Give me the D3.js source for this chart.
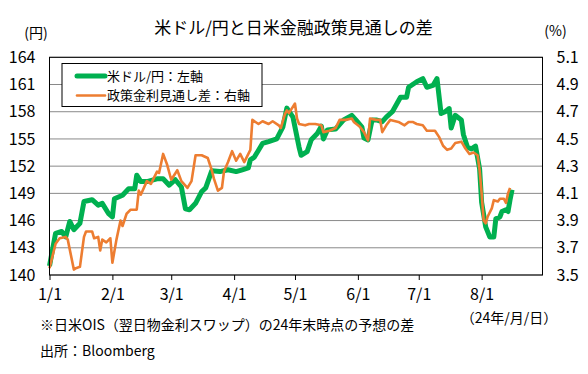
<!DOCTYPE html>
<html>
<head>
<meta charset="utf-8">
<script src="https://cdn.jsdelivr.net/npm/d3@7"></script>
<style>
body { margin: 0; background: #fff; }
text { font-family: "Noto Sans CJK JP", "Noto Sans", sans-serif; fill: #000; }
</style>
</head>
<body>
<svg id="chart" width="588" height="374"></svg>
<script>
// USD/JPY (left axis)
var usdDates = ["01-01","01-04","01-07","01-09","01-11","01-13","01-16","01-18","01-22","01-25",
    "01-27","01-30","02-01","02-02","02-06","02-09","02-12","02-13","02-15","02-18",
    "02-23","02-26","02-29","03-03","03-06","03-08","03-10","03-13","03-16","03-18",
    "03-21","03-25","03-29","04-02","04-05","04-08","04-09","04-11","04-15","04-18",
    "04-22","04-25","04-27","04-30","05-03","05-04","05-07","05-09","05-12","05-14",
    "05-15","05-17","05-21","05-25","05-29","05-31","06-03","06-04","06-06","06-08",
    "06-10","06-13","06-15","06-18","06-22","06-25","06-26","06-30","07-03","07-05",
    "07-08","07-10","07-12","07-14","07-16","07-17","07-19","07-22","07-23","07-25",
    "07-27","07-29","07-31","08-01","08-03","08-05","08-07","08-08","08-10","08-11",
    "08-13","08-14","08-15","08-16"];
var usdValues = [141.0,144.6,144.8,144.2,145.9,145.0,145.7,148.1,148.3,147.7,
    147.9,146.8,146.4,148.4,148.8,149.5,149.5,151.0,150.3,150.3,
    150.6,150.6,149.9,150.5,149.7,147.3,147.2,147.9,149.2,149.6,
    151.5,151.4,151.6,151.4,151.6,151.8,152.7,153.0,154.5,154.7,
    155.0,156.3,158.4,157.4,154.1,153.2,153.6,154.9,155.6,156.4,
    155.0,156.0,156.1,157.1,157.6,157.1,156.3,155.1,154.9,157.1,
    157.1,156.9,157.4,158.0,159.6,159.6,160.7,161.3,161.65,160.7,
    160.9,161.65,157.8,158.0,158.35,156.2,157.6,157.1,155.5,154.1,
    153.9,154.2,151.7,148.0,145.3,144.2,144.2,146.2,146.4,147.0,
    147.2,147.0,148.3,149.4];

// policy outlook gap, % (right axis)
var gapDates = ["01-01","01-04","01-06","01-09","01-10","01-13","01-14","01-16","01-18","01-19",
    "01-22","01-23","01-25","01-26","01-27","01-29","01-31","02-01","02-03","02-05",
    "02-06","02-08","02-10","02-13","02-14","02-15","02-18","02-20","02-23","02-24",
    "02-26","02-28","03-01","03-04","03-06","03-09","03-11","03-13","03-16","03-19",
    "03-21","03-22","03-24","03-26","03-27","03-29","03-31","04-02","04-04","04-06",
    "04-09","04-10","04-13","04-15","04-18","04-20","04-23","04-24","04-26","04-27",
    "04-28","05-01","05-02","05-03","05-06","05-08","05-11","05-14","05-15","05-18",
    "05-21","05-23","05-26","05-29","05-30","06-02","06-04","06-06","06-07","06-10",
    "06-12","06-13","06-15","06-17","06-21","06-24","06-26","06-28","06-30","07-03",
    "07-05","07-07","07-09","07-11","07-13","07-15","07-17","07-19","07-22","07-24",
    "07-26","07-28","07-30","07-31","08-01","08-02","08-03","08-04","08-06","08-07",
    "08-09","08-10","08-12","08-13","08-14","08-15"];
var gapValues = [3.55,3.73,3.77,3.78,3.76,3.54,3.55,3.56,3.78,3.82,
    3.82,3.77,3.78,3.68,3.76,3.74,3.77,3.59,3.76,3.90,
    3.86,3.95,3.98,3.98,4.12,4.09,4.19,4.17,4.26,4.25,
    4.39,4.31,4.20,4.27,4.19,4.14,4.19,4.38,4.38,4.36,
    4.27,4.21,4.12,4.14,4.26,4.33,4.41,4.34,4.39,4.33,
    4.42,4.64,4.61,4.63,4.61,4.63,4.60,4.58,4.68,4.71,
    4.69,4.76,4.65,4.61,4.60,4.61,4.61,4.60,4.55,4.56,
    4.58,4.64,4.64,4.65,4.625,4.59,4.55,4.49,4.65,4.64,
    4.64,4.55,4.60,4.64,4.625,4.60,4.625,4.625,4.61,4.60,
    4.56,4.56,4.56,4.515,4.45,4.42,4.43,4.47,4.48,4.43,
    4.39,4.40,4.38,4.27,4.10,3.90,3.88,3.93,3.99,4.05,
    4.04,4.06,4.06,4.03,4.10,4.14];

var leftTicks = [140, 143, 146, 149, 152, 155, 158, 161, 164];
var rightTicks = [3.5, 3.7, 3.9, 4.1, 4.3, 4.5, 4.7, 4.9, 5.1];
var monthTicks = ["01-01", "02-01", "03-01", "04-01", "05-01", "06-01", "07-01", "08-01"];

var title = "米ドル/円と日米金融政策見通しの差";
var legendLabels = ["米ドル/円：左軸", "政策金利見通し差：右軸"];
var note = "※日米OIS（翌日物金利スワップ）の24年末時点の予想の差";
var source = "出所：Bloomberg";

var svg = d3.select("#chart"),
    margin = {left: 49.5, top: 57.3, right: 45.5, bottom: 99},
    width = 588 - margin.left - margin.right,
    height = 374 - margin.top - margin.bottom;

var parse = function(s) { return new Date(Date.UTC(2024, +s.slice(0, 2) - 1, +s.slice(3))); };

var x = d3.scaleUtc()
    .domain([parse("01-01"), parse("08-31")])
    .range([0, width]);
var yL = d3.scaleLinear().domain([140, 164]).range([height, 0]);
var yR = d3.scaleLinear().domain([3.5, 5.1]).range([height, 0]);

var g = svg.append("g").attr("transform", "translate(" + margin.left + "," + margin.top + ")");

// gridlines
g.append("g")
    .selectAll("line")
    .data(leftTicks)
    .enter().append("line")
    .attr("x1", 0).attr("x2", width)
    .attr("y1", function(d) { return yL(d); })
    .attr("y2", function(d) { return yL(d); })
    .attr("stroke", "#898989")
    .attr("stroke-width", 1);

// series
var usd = usdDates.map(function(d, i) { return {date: parse(d), v: usdValues[i]}; });
var gap = gapDates.map(function(d, i) { return {date: parse(d), v: gapValues[i]}; });

g.append("path")
    .datum(usd)
    .attr("fill", "none")
    .attr("stroke", "#00b050")
    .attr("stroke-width", 5)
    .attr("stroke-linejoin", "round")
    .attr("d", d3.line().x(function(d) { return x(d.date); }).y(function(d) { return yL(d.v); }));

g.append("path")
    .datum(gap)
    .attr("fill", "none")
    .attr("stroke", "#ed7d31")
    .attr("stroke-width", 2.6)
    .attr("stroke-linejoin", "round")
    .attr("d", d3.line().x(function(d) { return x(d.date); }).y(function(d) { return yR(d.v); }));

// frame
g.append("rect")
    .attr("width", width).attr("height", height)
    .attr("fill", "none").attr("stroke", "#000").attr("stroke-width", 1);

// axes
var axisX = d3.axisBottom(x)
    .tickValues(monthTicks.map(parse))
    .tickSize(5)
    .tickPadding(9)
    .tickFormat(d3.utcFormat("%-m/%-d"));
g.append("g")
    .attr("transform", "translate(0," + height + ")")
    .call(axisX)
    .call(function(s) { s.select(".domain").remove(); })
    .call(function(s) {
        s.selectAll("line").attr("stroke", "#000");
        s.selectAll("text").style("font-size", "16px").attr("fill", "#000");
    });

g.append("g")
    .call(d3.axisLeft(yL).tickValues(leftTicks).tickSize(0).tickPadding(14))
    .call(function(s) {
        s.select(".domain").remove();
        s.selectAll("text").style("font-size", "16px").attr("fill", "#000");
    });

g.append("g")
    .attr("transform", "translate(" + width + ",0)")
    .call(d3.axisRight(yR).tickValues(rightTicks).tickSize(0).tickPadding(14).tickFormat(d3.format(".1f")))
    .call(function(s) {
        s.select(".domain").remove();
        s.selectAll("text").style("font-size", "16px").attr("fill", "#000");
    });

// legend
var legend = svg.append("g").attr("transform", "translate(62,63.5)");
legend.append("rect")
    .attr("width", 200).attr("height", 43)
    .attr("fill", "#fff").attr("stroke", "#000").attr("stroke-width", 1);
var items = legend.selectAll(".item")
    .data([{c: "#00b050", w: 5}, {c: "#ed7d31", w: 2.6}])
    .enter().append("g")
    .attr("transform", function(d, i) { return "translate(0," + (12.5 + i * 19.5) + ")"; });
items.append("line")
    .attr("x1", 15).attr("x2", 43)
    .attr("stroke", function(d) { return d.c; })
    .attr("stroke-width", function(d) { return d.w; })
    .attr("stroke-linecap", "round");
items.append("text")
    .attr("x", 45).attr("dy", "0.35em")
    .style("font-size", "13px")
    .text(function(d, i) { return legendLabels[i]; });

// titles and notes
svg.append("text").attr("x", 293.5).attr("y", 28).attr("dy", "0.35em")
    .attr("text-anchor", "middle").style("font-size", "17px").text(title);
svg.append("text").attr("x", 36).attr("y", 33).attr("dy", "0.35em")
    .attr("text-anchor", "middle").style("font-size", "14px").text("(円)");
svg.append("text").attr("x", 555.5).attr("y", 31).attr("dy", "0.35em")
    .attr("text-anchor", "middle").style("font-size", "14px").text("(%)");
svg.append("text").attr("x", 509).attr("y", 318).attr("dy", "0.35em")
    .attr("text-anchor", "middle").style("font-size", "14px").text("（24年/月/日）");
svg.append("text").attr("x", 40).attr("y", 325).attr("dy", "0.35em")
    .style("font-size", "14px").text(note);
svg.append("text").attr("x", 40).attr("y", 351).attr("dy", "0.35em")
    .style("font-size", "14px").text(source);
</script>
</body>
</html>
